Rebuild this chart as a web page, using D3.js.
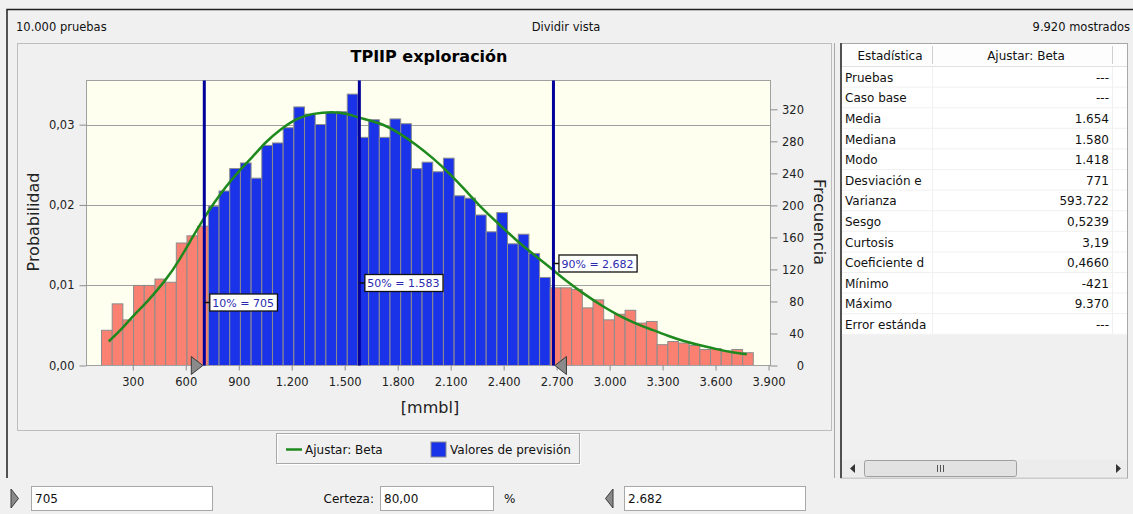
<!DOCTYPE html>
<html>
<head>
<meta charset="utf-8">
<script src="https://cdnjs.cloudflare.com/ajax/libs/d3/7.8.5/d3.min.js"></script>
<style>
body { margin: 0; background: #f0f0f0; }
svg { display: block; font-family: "DejaVu Sans", sans-serif; }
</style>
</head>
<body>
<div class="chart"></div>
<script>
var trials = 10000;
var shown = 9920;
var chartTitle = "TPIIP exploración";
var xLabel = "[mmbl]";

// histogram: bins of equal width, counts
var binStart = 123;
var binWidth = 60.5;
var frequencies = [44, 77, 57, 100, 100, 108, 104, 153, 162, 174,
	199, 218, 246, 253, 234, 275, 278, 297, 323, 314,
	301, 316, 317, 339, 285, 307, 285, 308, 302, 246,
	254, 242, 259, 212, 209, 188, 167, 191, 152, 164,
	140, 110, 97, 97, 95, 72, 82, 57, 64, 69,
	53, 55, 26, 30, 28, 25, 20, 21, 18, 20, 16];

// Beta fit curve, in frequency units
var fitValues = [164, 244, 310, 376, 489, 565, 640, 697, 753, 829, 905, 980, 1056, 1131, 1226, 1320, 1433, 1509, 1603, 1716, 1811, 1905, 2000, 2094, 2188, 2282, 2377, 2472, 2580, 2682, 2764, 2858, 2953, 3047, 3141, 3236, 3330, 3425, 3519, 3613, 3708, 3777];
var fitFrequencies = [30, 47, 64, 78, 107, 132, 161, 182, 201, 224, 244, 261, 280, 294, 309, 315, 317, 315, 308, 302, 290, 276, 259, 240, 218, 195, 176, 156, 137, 119, 104, 89, 75, 63, 53, 45, 37, 30, 25, 20, 16, 14];

var xTicks = [300, 600, 900, 1200, 1500, 1800, 2100, 2400, 2700, 3000, 3300, 3600, 3900];
var probTicks = [0, 0.01, 0.02, 0.03];
var freqTicks = [0, 40, 80, 120, 160, 200, 240, 280, 320];

var percentLabels = ["10%", "50%", "90%"];
var percentValues = [705, 1583, 2682];
var certainty = 80;

var statNames = ["Pruebas", "Caso base", "Media", "Mediana", "Modo", "Desviación e", "Varianza", "Sesgo", "Curtosis", "Coeficiente d", "Mínimo", "Máximo", "Error estánda"];
var statValues = ["---", "---", "1.654", "1.580", "1.418", "771", "593.722", "0,5239", "3,19", "0,4660", "-421", "9.370", "---"];

var legendNames = ["Ajustar: Beta", "Valores de previsión"];

var es = d3.formatLocale({decimal: ",", thousands: ".", grouping: [3], currency: ["", " €"]});
var fmtInt = es.format(",");

var svgWidth = 1133;
var svgHeight = 514;

var plot = {left: 86.5, right: 770.5, top: 80.5, bottom: 365.5};

var svg = d3.select(".chart")
	.append("svg")
	.attr("width", svgWidth)
	.attr("height", svgHeight);

svg.append("rect")
	.attr("width", svgWidth)
	.attr("height", svgHeight)
	.attr("fill", "#f0f0f0");

// window frame
svg.append("path")
	.attr("d", "M7,478 V9.5 H1133")
	.attr("fill", "none")
	.attr("stroke", "#1e1e1e")
	.attr("stroke-width", 1.5);

svg.append("text").attr("x", 16).attr("y", 31).attr("font-size", 11.5).attr("fill", "#111")
	.text(fmtInt(trials) + " pruebas");
svg.append("text").attr("x", 566).attr("y", 31).attr("font-size", 11.5).attr("fill", "#111")
	.attr("text-anchor", "middle").text("Dividir vista");
svg.append("text").attr("x", 1130).attr("y", 31).attr("font-size", 11.5).attr("fill", "#111")
	.attr("text-anchor", "end").text(fmtInt(shown) + " mostrados");

// chart panel
svg.append("rect")
	.attr("x", 17.5).attr("y", 43.5)
	.attr("width", 814).attr("height", 387)
	.attr("fill", "none")
	.attr("stroke", "#8a8a8a")
	.attr("stroke-dasharray", "1,1");

svg.append("line")
	.attr("x1", 834.5).attr("x2", 834.5)
	.attr("y1", 43).attr("y2", 478)
	.attr("stroke", "#a8a8a8");

svg.append("text")
	.attr("x", 429).attr("y", 62)
	.attr("text-anchor", "middle")
	.attr("font-size", 16)
	.attr("font-weight", "bold")
	.attr("fill", "#000")
	.text(chartTitle);

var xScale = d3.scaleLinear().domain([38, 3911]).range([plot.left, plot.right]);
var yProb = d3.scaleLinear().domain([0, 0.0355]).range([plot.bottom, plot.top]);
var yFreq = d3.scaleLinear().domain([0, 356]).range([plot.bottom, plot.top]);

var chart = svg.append("g");

chart.append("rect")
	.attr("x", plot.left).attr("y", plot.top)
	.attr("width", plot.right - plot.left)
	.attr("height", plot.bottom - plot.top)
	.attr("fill", "#fffff0");

chart.selectAll(".grid")
	.data(probTicks.slice(1))
	.enter().append("line")
		.attr("class", "grid")
		.attr("x1", plot.left).attr("x2", plot.right)
		.attr("y1", function(d){ return Math.round(yProb(d)) + 0.5; })
		.attr("y2", function(d){ return Math.round(yProb(d)) + 0.5; })
		.attr("stroke", "#a0a0a0")
		.attr("stroke-width", 1.2);

chart.selectAll(".bar")
	.data(frequencies)
	.enter().append("rect")
		.attr("class", "bar")
		.attr("x", function(d, i){ return xScale(binStart + i * binWidth); })
		.attr("width", function(d, i){ return xScale(binStart + (i + 1) * binWidth) - xScale(binStart + i * binWidth); })
		.attr("y", function(d){ return yFreq(d); })
		.attr("height", function(d){ return plot.bottom - yFreq(d); })
		.attr("fill", function(d, i){
			var mid = binStart + (i + 0.5) * binWidth;
			return (mid < percentValues[0] || mid > percentValues[2]) ? "#fa8072" : "#1a33e8";
		})
		.attr("stroke", "#8c8c8c")
		.attr("stroke-width", 1);

var fitLine = d3.line()
	.x(function(d){ return xScale(d[0]); })
	.y(function(d){ return yFreq(d[1]); })
	.curve(d3.curveBasis);

chart.append("path")
	.datum(d3.zip(fitValues, fitFrequencies))
	.attr("d", fitLine)
	.attr("fill", "none")
	.attr("stroke", "#1e8a1e")
	.attr("stroke-width", 2.5);

chart.append("rect")
	.attr("x", plot.left).attr("y", plot.top)
	.attr("width", plot.right - plot.left)
	.attr("height", plot.bottom - plot.top)
	.attr("fill", "none")
	.attr("stroke", "#a0a0a0");

// axes
var leftAxis = d3.axisLeft(yProb).tickValues(probTicks).tickFormat(es.format(",.2f")).tickSize(7).tickPadding(5);
var rightAxis = d3.axisRight(yFreq).tickValues(freqTicks).tickFormat(fmtInt).tickSize(7).tickPadding(5);
var bottomAxis = d3.axisBottom(xScale).tickValues(xTicks).tickFormat(fmtInt).tickSize(5).tickPadding(7);

function styleAxis(g){
	g.select(".domain").remove();
	g.selectAll("line").attr("stroke", "#8c8c8c");
	g.selectAll("text").attr("fill", "#222").attr("font-size", 11.5).attr("font-family", "DejaVu Sans");
}

chart.append("g")
	.attr("transform", "translate(" + plot.left + ",0)")
	.call(leftAxis)
	.call(styleAxis);

chart.append("g")
	.attr("transform", "translate(" + plot.right + ",0)")
	.call(rightAxis)
	.call(styleAxis)
	.selectAll("text")
		.attr("text-anchor", "end")
		.attr("x", 33.5);

chart.append("g")
	.attr("transform", "translate(0," + plot.bottom + ")")
	.call(bottomAxis)
	.call(styleAxis);

chart.append("text")
	.attr("transform", "translate(39,222) rotate(-90)")
	.attr("text-anchor", "middle")
	.attr("font-size", 16)
	.attr("fill", "#222")
	.text("Probabilidad");

chart.append("text")
	.attr("transform", "translate(814,222) rotate(90)")
	.attr("text-anchor", "middle")
	.attr("font-size", 16)
	.attr("fill", "#222")
	.text("Frecuencia");

chart.append("text")
	.attr("x", 430).attr("y", 413)
	.attr("text-anchor", "middle")
	.attr("font-size", 16)
	.attr("fill", "#222")
	.text(xLabel);

// percentile markers
var labelY = [302.5, 283, 263.5];

percentValues.forEach(function(v, i){
	var px = xScale(v);
	chart.append("line")
		.attr("x1", px).attr("x2", px)
		.attr("y1", plot.top).attr("y2", plot.bottom)
		.attr("stroke", "#00009a")
		.attr("stroke-width", 3);

	var g = chart.append("g");
	var t = g.append("text")
		.attr("x", px + 8).attr("y", labelY[i] + 4)
		.attr("font-size", 11)
		.attr("fill", "#2a2ab0")
		.text(percentLabels[i] + " = " + fmtInt(v));
	var w = t.node().getComputedTextLength();
	g.insert("rect", "text")
		.attr("x", px + 5.5).attr("y", labelY[i] - 8.5)
		.attr("width", w + 6).attr("height", 17)
		.attr("fill", "#fff")
		.attr("stroke", "#111")
		.attr("stroke-width", 1.3);
	g.append("line")
		.attr("x1", px).attr("x2", px + 5.5)
		.attr("y1", labelY[i]).attr("y2", labelY[i])
		.attr("stroke", "#111")
		.attr("stroke-width", 1.5);
});

function triangle(px, dir){
	var y0 = plot.bottom - 9, y1 = plot.bottom + 9;
	var tip = px - dir * 1.5, back = px - dir * 13;
	return "M" + back + "," + y0 + " L" + tip + "," + (plot.bottom) + " L" + back + "," + y1 + " Z";
}

chart.append("path")
	.attr("d", triangle(xScale(percentValues[0]), 1))
	.attr("fill", "#8a8a8a").attr("stroke", "#3a3a3a");
chart.append("path")
	.attr("d", triangle(xScale(percentValues[2]), -1))
	.attr("fill", "#8a8a8a").attr("stroke", "#3a3a3a");

// legend
var legend = svg.append("g");
legend.append("rect")
	.attr("x", 277.5).attr("y", 434.5).attr("width", 303).attr("height", 30)
	.attr("fill", "none").attr("stroke", "#fff");
legend.append("rect")
	.attr("x", 276.5).attr("y", 433.5).attr("width", 303).attr("height", 30)
	.attr("fill", "none").attr("stroke", "#a8a8a8");
legend.append("line")
	.attr("x1", 286).attr("x2", 302).attr("y1", 449.5).attr("y2", 449.5)
	.attr("stroke", "#1e8a1e").attr("stroke-width", 2.5);
legend.append("text")
	.attr("x", 305).attr("y", 454).attr("font-size", 12).attr("fill", "#111")
	.text(legendNames[0]);
legend.append("rect")
	.attr("x", 431).attr("y", 442).attr("width", 15).attr("height", 15)
	.attr("fill", "#1a33e8").attr("stroke", "#8c8c8c");
legend.append("text")
	.attr("x", 450).attr("y", 454).attr("font-size", 12).attr("fill", "#111")
	.text(legendNames[1]);

// statistics table
var table = svg.append("g");
var rowH = 20.6;
var rowTop = 67;

table.append("rect")
	.attr("x", 840.5).attr("y", 43.5).attr("width", 287).attr("height", 434.5)
	.attr("fill", "#f0f0f0").attr("stroke", "#a8a8a8");
table.append("line")
	.attr("x1", 841).attr("x2", 841).attr("y1", 43).attr("y2", 478)
	.attr("stroke", "#505050").attr("stroke-width", 2);

table.append("rect")
	.attr("x", 842).attr("y", 44).attr("width", 285).attr("height", rowTop - 44)
	.attr("fill", "#fdfdfd");
table.append("line")
	.attr("x1", 842).attr("x2", 1127).attr("y1", rowTop - 0.5).attr("y2", rowTop - 0.5)
	.attr("stroke", "#e0e0e0");
[932.5, 1112.5].forEach(function(cx){
	table.append("line")
		.attr("x1", cx).attr("x2", cx).attr("y1", 46).attr("y2", rowTop - 3)
		.attr("stroke", "#d0d0d0");
});
table.append("text").attr("x", 890).attr("y", 60).attr("text-anchor", "middle")
	.attr("font-size", 12).attr("fill", "#111").text("Estadística");
table.append("text").attr("x", 1026).attr("y", 60).attr("text-anchor", "middle")
	.attr("font-size", 12).attr("fill", "#111").text(legendNames[0]);

table.append("rect")
	.attr("x", 842).attr("y", rowTop).attr("width", 285).attr("height", rowH * statNames.length)
	.attr("fill", "#fff");

var rows = table.selectAll(".row")
	.data(statNames)
	.enter().append("g")
		.attr("class", "row")
		.attr("transform", function(d, i){ return "translate(0," + (rowTop + i * rowH) + ")"; });

rows.append("line")
	.attr("x1", 842).attr("x2", 1127).attr("y1", rowH - 0.5).attr("y2", rowH - 0.5)
	.attr("stroke", "#f0f0f0");
rows.append("text")
	.attr("x", 845).attr("y", rowH / 2 + 4.5)
	.attr("font-size", 12).attr("fill", "#111")
	.text(function(d){ return d; });
rows.append("text")
	.attr("x", 1109).attr("y", rowH / 2 + 4.5)
	.attr("text-anchor", "end")
	.attr("font-size", 12).attr("fill", "#111")
	.text(function(d, i){ return statValues[i]; });

[932.5, 1112.5].forEach(function(cx){
	table.append("line")
		.attr("x1", cx).attr("x2", cx).attr("y1", rowTop).attr("y2", rowTop + rowH * statNames.length)
		.attr("stroke", "#f0f0f0");
});

// scrollbar
table.append("rect")
	.attr("x", 842).attr("y", 459.5).attr("width", 285).attr("height", 18)
	.attr("fill", "#ececec");
table.append("path").attr("d", "M855,464 L850,468.5 L855,473 Z").attr("fill", "#333");
table.append("path").attr("d", "M1116,464 L1121,468.5 L1116,473 Z").attr("fill", "#333");
table.append("rect")
	.attr("x", 864.5).attr("y", 460.5).attr("width", 152).attr("height", 16).attr("rx", 2)
	.attr("fill", "#e2e2e2").attr("stroke", "#a0a0a0");
[937.5, 940.5, 943.5].forEach(function(gx){
	table.append("line")
		.attr("x1", gx).attr("x2", gx).attr("y1", 465).attr("y2", 472)
		.attr("stroke", "#555");
});

// bottom controls
var controls = svg.append("g");

function inputBox(x0, x1, value){
	controls.append("rect")
		.attr("x", x0 + 0.5).attr("y", 486.5).attr("width", x1 - x0).attr("height", 24)
		.attr("fill", "#fff").attr("stroke", "#a8a8a8");
	controls.append("text")
		.attr("x", x0 + 4).attr("y", 503)
		.attr("font-size", 12).attr("fill", "#111")
		.text(value);
}

inputBox(31, 212, fmtInt(percentValues[0]));
inputBox(380, 493, es.format(",.2f")(certainty));
inputBox(624, 805, fmtInt(percentValues[2]));

controls.append("path").attr("d", "M11,489 L18.5,498.5 L11,508 Z")
	.attr("fill", "#8a8a8a").attr("stroke", "#3a3a3a");
controls.append("path").attr("d", "M613,489 L605.5,498.5 L613,508 Z")
	.attr("fill", "#8a8a8a").attr("stroke", "#3a3a3a");

controls.append("text").attr("x", 374).attr("y", 503).attr("text-anchor", "end")
	.attr("font-size", 12).attr("fill", "#111").text("Certeza:");
controls.append("text").attr("x", 504).attr("y", 503)
	.attr("font-size", 12).attr("fill", "#111").text("%");
</script>
</body>
</html>
